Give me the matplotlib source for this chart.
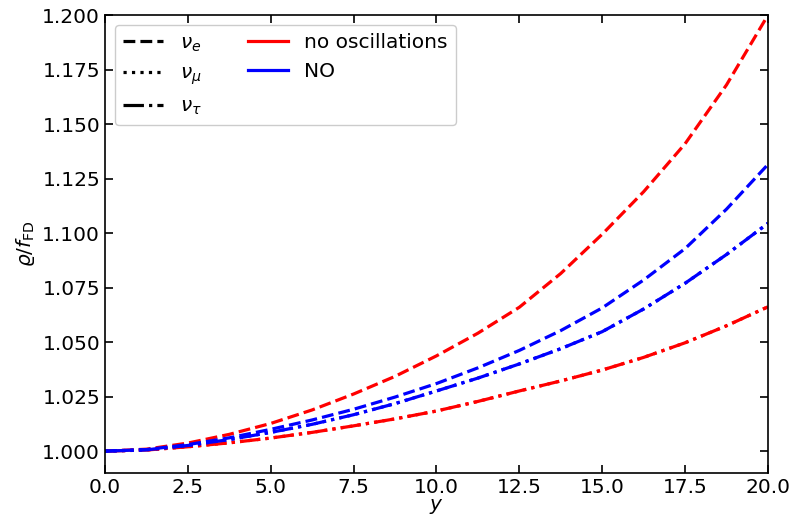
import numpy as np
import matplotlib
matplotlib.use('Agg')
import matplotlib.pyplot as plt
from matplotlib.lines import Line2D
from matplotlib.ticker import MultipleLocator, FormatStrFormatter

y = [0, 1.25, 2.5, 3.75, 5, 6.25, 7.5, 8.75, 10, 11.25, 12.5, 13.75, 15, 16.25, 17.5, 18.75, 20]

# no oscillations
noosc_e = [1.0, 1.0009, 1.0037, 1.0077, 1.0127, 1.0189, 1.0262, 1.0343, 1.0437, 1.0541,
           1.0660, 1.0815, 1.0995, 1.1190, 1.1410, 1.1680, 1.2000]
noosc_mu = [1.0, 1.0005, 1.0020, 1.0038, 1.0060, 1.0086, 1.0116, 1.0148, 1.0184, 1.0228,
            1.0276, 1.0322, 1.0372, 1.0430, 1.0497, 1.0575, 1.0662]
noosc_tau = noosc_mu

# normal ordering
no_e = [1.0, 1.0007, 1.0030, 1.0061, 1.0100, 1.0143, 1.0192, 1.0248, 1.0310, 1.0382,
        1.0462, 1.0553, 1.0657, 1.0785, 1.0929, 1.1110, 1.1315]
no_mu = [1.0, 1.0006, 1.0026, 1.0053, 1.0086, 1.0123, 1.0167, 1.0218, 1.0276, 1.0335,
         1.0400, 1.0470, 1.0548, 1.0652, 1.0770, 1.0902, 1.1045]
no_tau = no_mu

fig = plt.figure(figsize=(7.93, 5.22), dpi=100)
ax = fig.add_axes([0.1324, 0.094, 0.836, 0.877])

lw = 2.3
fs = 14.5
for vals, ls in [(noosc_e, '--'), (noosc_mu, ':'), (noosc_tau, '-.')]:
  ax.plot(y, vals, color='red', ls=ls, lw=lw)
for vals, ls in [(no_e, '--'), (no_mu, ':'), (no_tau, '-.')]:
  ax.plot(y, vals, color='blue', ls=ls, lw=lw)

ax.set_xlim(0, 20)
ax.set_ylim(0.99, 1.2)
ax.xaxis.set_major_locator(MultipleLocator(2.5))
ax.yaxis.set_major_locator(MultipleLocator(0.025))
ax.yaxis.set_major_formatter(FormatStrFormatter('%.3f'))
ax.tick_params(direction='in', top=True, right=True, length=6, width=1.2, labelsize=fs)
for s in ax.spines.values():
  s.set_linewidth(1.2)

ax.set_xlabel(r'$y$', fontsize=fs, labelpad=0)
ax.set_ylabel(r'$\varrho/f_{\rm FD}$', fontsize=fs)

handles = [
  Line2D([], [], color='black', ls='--', lw=lw),
  Line2D([], [], color='black', ls=':', lw=lw),
  Line2D([], [], color='black', ls='-.', lw=lw),
  Line2D([], [], color='red', lw=lw),
  Line2D([], [], color='blue', lw=lw),
]
labels = [r'$\nu_e$', r'$\nu_\mu$', r'$\nu_\tau$', 'no oscillations', 'NO']
ax.legend(handles, labels, loc='upper left', ncol=2, fontsize=fs, framealpha=1,
          columnspacing=2.3)

plt.savefig('out.png', dpi=100)
